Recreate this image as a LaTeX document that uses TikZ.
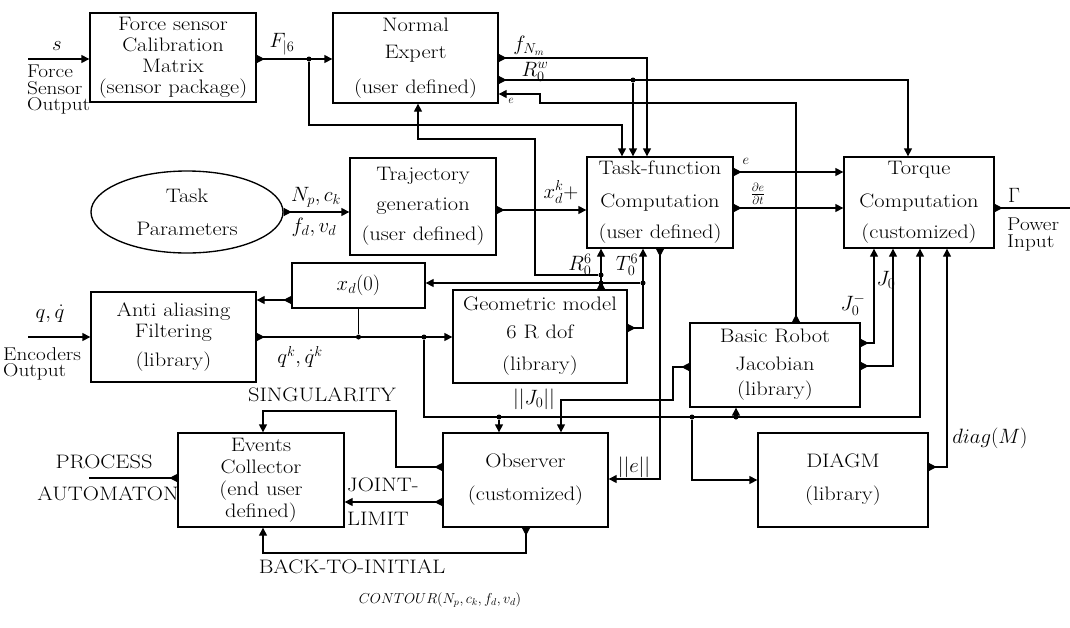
\documentclass[tikz,border=0pt]{standalone}
\usepackage{fontspec}
\setmainfont{Latin Modern Roman}[FakeStretch=1.15]
\usetikzlibrary{arrows.meta,shapes.geometric,calc}
\newcommand\dfont{\fontsize{19.5}{21}\selectfont}
\newcommand\sfont{\fontsize{18.5}{16.5}\selectfont}
\begin{document}
\begin{tikzpicture}[x=1pt,y=-1pt,
  box/.style={draw,line width=1.35pt,align=center,font=\dfont,inner sep=1pt},
  wire/.style={line width=1.35pt},
  arr/.style={wire,-{Triangle[length=8pt,width=8pt]}},
  outp/.style={wire,{Triangle[reversed,length=8pt,width=8pt]}-},
  outarr/.style={wire,{Triangle[reversed,length=8pt,width=8pt]}-{Triangle[length=8pt,width=8pt]}},
  dot/.style={circle,fill,inner sep=0pt,minimum size=5pt},
  lbl/.style={font=\dfont,inner sep=1pt}]
\useasboundingbox (0,0) rectangle (1070,627);

% ---------- boxes ----------
\node[box,minimum width=166pt,minimum height=89pt] (fs) at (173,57.5) {Force sensor\\Calibration\\Matrix\\(sensor package)};
\node[box,minimum width=165pt,minimum height=90pt] (ne) at (415.5,58) {Normal\\[6pt]Expert\\[14pt](user defined)};
\node[draw,ellipse,line width=1.35pt,minimum width=192pt,minimum height=82pt,align=center,font=\dfont,inner sep=0pt] (tp) at (187,212) {Task\\[12pt]Parameters};
\node[box,minimum width=146pt,minimum height=97pt] (tg) at (423,206.5) {Trajectory\\[9pt]generation\\[9pt](user defined)};
\node[box,minimum width=146pt,minimum height=91pt] (tf) at (660,202.5) {Task-function\\[12pt]Computation\\[10pt](user defined)};
\node[box,minimum width=150pt,minimum height=91pt] (tq) at (919,202.5) {Torque\\[12pt]Computation\\[10pt](customized)};
\node[box,minimum width=133pt,minimum height=45pt] (xd) at (358.5,285.5) {$x_d(0)$};
\node[box,minimum width=165pt,minimum height=90pt] (aa) at (173.5,337) {Anti aliasing\\Filtering\\[8pt](library)};
\node[box,minimum width=174pt,minimum height=93pt] (gm) at (540,336.5) {Geometric model\\[7pt]6 R dof\\[11pt](library)};
\node[box,minimum width=170pt,minimum height=84pt] (br) at (775,365) {Basic Robot\\[7pt]Jacobian\\[4pt](library)};
\node[box,minimum width=166pt,minimum height=94pt] (ev) at (261,480) {Events\\[1pt]Collector\\[1pt](end user\\[1pt]defined)};
\node[box,minimum width=165pt,minimum height=94pt] (ob) at (525.5,480) {Observer\\[12pt](customized)};
\node[box,minimum width=170pt,minimum height=94pt] (dg) at (843,480) {DIAGM\\[12pt](library)};

% ---------- junction coordinates ----------
\coordinate (fsin) at (28,59);
\coordinate (encin) at (28,337);
\coordinate (pw) at (1070,208);
\coordinate (pa) at (89,478);
\node[dot] (j1) at (309,59) {};
\node[dot] (j2) at (633,80) {};
\node[dot] (j3) at (601,275) {};
\node[dot] (j4) at (601,283) {};
\node[dot] (j5) at (643,283) {};
\node[dot] (j6) at (358.5,337) {};
\node[dot] (j7) at (424,337) {};
\node[dot] (j8) at (499,417) {};
\node[dot] (j9) at (692,417) {};
\node[dot] (j10) at (736,417) {};

% ---------- connectors ----------
% force sensor
\draw[arr] (fsin) -- (fs.west |- fsin);
\draw[outarr] (fs.east |- j1) -- (ne.west |- j1);
\draw[arr] (j1) -- (309,125) -- (622,125) -- (tf.north -| 622,0);
% normal expert outputs / inputs
\draw[outarr] (ne.east |- 0,58) -- (647,58) -- (tf.north -| 647,0);
\draw[outarr] (ne.east |- j2) -- (908,80) -- (tq.north -| 908,0);
\draw[arr] (j2) -- (tf.north -| j2);
\draw[outarr] (br.north -| 796,0) -- (796,103) -- (540,103) -- (540,94) -- (ne.east |- 0,94);
% task parameters -> trajectory -> task function
\draw[outarr] (tp.east) -- (tg.west |- tp.east);
\draw[outarr] (tg.east |- 0,210) -- (tf.west |- 0,210);
% task function -> torque
\draw[outarr] (tf.east |- 0,172) -- (tq.west |- 0,172);
\draw[outarr] (tf.east |- 0,208) -- (tq.west |- 0,208);
\draw[outp] (tq.east |- pw) -- (pw);
% geometric model outputs
\draw[outarr] (gm.north -| j3) -- (tf.south -| j3);
\draw[outarr] (gm.east |- 0,328) -- (643,328) -- (tf.south -| 643,0);
\draw[arr] (j3) -- (535,275) -- (535,139) -- (418,139) -- (ne.south -| 418,0);
\draw[arr] (j5) -- (xd.east |- j5);
% x_d(0) and anti aliasing
\draw[outarr] (xd.west |- 0,300) -- (aa.east |- 0,300);
\draw[wire] (xd.south -| j6) -- (j6);
\draw[arr] (encin) -- (aa.west |- encin);
\draw[outarr] (aa.east |- encin) -- (gm.west |- encin);
\draw[arr] (j7) -- (424,417) -- (920,417) -- (tq.south -| 920,0);
\draw[arr] (j8) -- (ob.north -| j8);
\draw[arr] (j9) -- (692,480) -- (dg.west |- 0,480);
\draw[arr] (j10) -- (br.south -| j10);
% ||e||
\draw[outarr] (tf.south -| 660,0) -- (660,479) -- (ob.east |- 0,479);
% Basic robot outputs
\draw[outarr] (br.east |- 0,343) -- (874,343) -- (tq.south -| 874,0);
\draw[outarr] (br.east |- 0,366) -- (893,366) -- (tq.south -| 893,0);
\draw[outarr] (br.west |- 0,367) -- (673,367) -- (673,400) -- (561,400) -- (ob.north -| 561,0);
% DIAGM output
\draw[outarr] (dg.east |- 0,467) -- (947,467) -- (tq.south -| 947,0);
% observer outputs
\draw[outarr] (ob.west |- 0,467) -- (396,467) -- (396,411) -- (263,411) -- (ev.north -| 263,0);
\draw[outarr] (ob.west |- 0,502) -- (ev.east |- 0,502);
\draw[outarr] (ob.south -| 526,0) -- (526,553) -- (263,553) -- (ev.south -| 263,0);
\draw[outp] (ev.west |- pa) -- (pa);

% ---------- labels ----------
\node[lbl] at (57,46) {$s$};
\node[lbl,align=left,anchor=north west,font=\sfont] at (26,64) {Force\\Sensor\\Output};
\node[lbl] at (282,44) {$F_{|6}$};
\node[lbl] at (529,46) {$f_{N_m}$};
\node[lbl] at (535,72) {$R_0^w$};
\node[lbl,font=\fontsize{12}{12}\selectfont] at (511,101) {$e$};
\node[lbl] at (316,197) {$N_p,c_k$};
\node[lbl] at (314,227) {$f_d,v_d$};
\node[lbl] at (561,192) {$x_d^{k}{+}$};
\node[lbl,font=\fontsize{14}{14}\selectfont] at (746,161) {$e$};
\node[lbl,font=\fontsize{17}{17}\selectfont] at (758,194) {$\frac{\partial e}{\partial t}$};
\node[lbl] at (1014,195) {$\Gamma$};
\node[lbl,align=left,anchor=north west,font=\sfont] at (1006,217) {Power\\Input};
\node[lbl] at (50,314) {$q,\dot q$};
\node[lbl,align=left,anchor=north west,font=\sfont] at (2,346) {Encoders\\Output};
\node[lbl] at (300,357) {$q^k,\dot q^k$};
\node[lbl] at (580,265) {$R_0^6$};
\node[lbl] at (627,265) {$T_0^6$};
\node[lbl] at (853,305) {$J_0^-$};
\node[lbl] at (886,280) {$J_0$};
\node[lbl] at (534,399) {$||J_0||$};
\node[lbl] at (634,467) {$||e||$};
\node[lbl] at (990,438) {$diag(M)$};
\node[lbl] at (322,395) {SINGULARITY};
\node[lbl,anchor=west] at (346,485) {JOINT-};
\node[lbl,anchor=west] at (346,519) {LIMIT};
\node[lbl] at (352,567) {BACK-TO-INITIAL};
\node[lbl] at (104,462) {PROCESS};
\node[lbl] at (108,494) {AUTOMATON};
\node[lbl,font=\fontsize{14}{14}\selectfont] at (440,600) {$CONTOUR(N_p,c_k,f_d,v_d)$};
\end{tikzpicture}
\end{document}
